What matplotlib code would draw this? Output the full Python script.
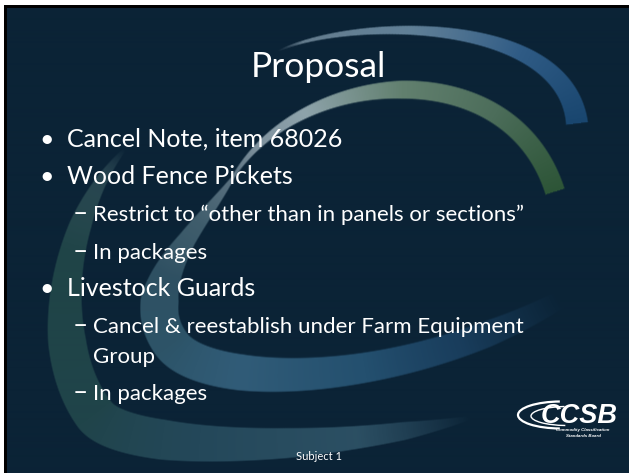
import numpy as np
import matplotlib
matplotlib.use("Agg")
import matplotlib.pyplot as plt
from matplotlib.colors import to_rgb
from matplotlib.patches import Arc

# ---------------- content ----------------
TITLE = "Proposal"
LEVELS = [0, 0, 1, 1, 0, 1, 2, 1]          # 0 bullet, 1 dash, 2 continuation line
ITEMS = [
    "Cancel Note, item 68026",
    "Wood Fence Pickets",
    "Restrict to \u201cother than in panels or sections\u201d",
    "In packages",
    "Livestock Guards",
    "Cancel & reestablish under Farm Equipment",
    "Group",
    "In packages",
]
FOOTER = "Subject 1"
LOGO = "CCSB"
LOGO_SUB = ["Commodity Classification", "Standards Board"]

# ---------------- style ----------------
W, H = 629, 473
BG = "#0b2336"
FONT = "Lato"

# decorative swooshes: cubic bezier segments with width / colour stops
SWOOSHES = [
    # outer faint crescent (left / bottom)
    [
        dict(p=[(125, 150), (60, 220), (45, 350), (95, 415)],
             w=[(0, 3), (0.3, 22), (0.7, 38), (1, 42)],
             c=[(0, "#4f6f78", 0.0), (0.12, "#3a5b60", 0.6), (0.4, "#1f4447", 1), (1, "#20444a", 1)]),
        dict(p=[(95, 415), (125, 455), (330, 452), (470, 418)],
             w=[(0, 42), (0.3, 40), (0.6, 30), (0.85, 18), (1, 4)],
             c=[(0, "#20444a", 1), (0.4, "#24485a", 1), (0.75, "#2f5468", 0.9), (1, "#3a5e74", 0.0)]),
    ],
    # green arc continuing into inner crescent
    [
        dict(p=[(555, 192), (510, 50), (300, 68), (233, 178)],
             w=[(0, 20), (0.5, 18), (0.8, 9), (1, 3)],
             c=[(0, "#2d5537", 1), (0.25, "#4c6d5a", 1), (0.5, "#62806f", 1),
                (0.75, "#8ea3ab", 1), (0.9, "#93a5b0", 0.85), (1, "#7d93a0", 0.7)]),
        dict(p=[(233, 178), (203, 224), (130, 290), (172, 345)],
             w=[(0, 3), (0.4, 18), (0.75, 38), (1, 38)],
             c=[(0, "#7d93a0", 0.7), (0.3, "#4c6b79", 0.8), (0.6, "#2f5062", 1), (1, "#2d5468", 1)]),
        dict(p=[(172, 345), (207, 391), (400, 390), (560, 300)],
             w=[(0, 38), (0.3, 36), (0.6, 30), (0.85, 26), (1, 18)],
             c=[(0, "#2d5468", 1), (0.3, "#315c78", 1), (0.6, "#24506f", 1),
                (0.8, "#1f486c", 0.7), (1, "#1d466a", 0.0)]),
    ],
    # blue arc (top)
    [
        dict(p=[(278, 52), (350, 18), (565, 15), (577, 124)],
             w=[(0, 1), (0.25, 6), (0.6, 13), (1, 22)],
             c=[(0, "#9db0bd", 0.0), (0.1, "#8aa2b3", 0.7), (0.4, "#6a8aa2", 0.9),
                (0.7, "#2f5b85", 1), (1, "#19466f", 1)]),
    ],
]


def bezier(P, n):
    P = np.asarray(P, float)
    t = np.linspace(0, 1, n)[:, None]
    return ((1 - t) ** 3) * P[0] + 3 * ((1 - t) ** 2) * t * P[1] + 3 * (1 - t) * t ** 2 * P[2] + t ** 3 * P[3]


def build(segs):
    pts, ws, cols, als = [], [], [], []
    for s in segs:
        n = 260
        pt = bezier(s["p"], n)
        t = np.linspace(0, 1, n)
        wt, wv = zip(*s["w"])
        ct = [c[0] for c in s["c"]]
        crgb = np.array([to_rgb(c[1]) for c in s["c"]])
        ca = [c[2] for c in s["c"]]
        pts.append(pt)
        ws.append(np.interp(t, wt, wv))
        cols.append(np.stack([np.interp(t, ct, crgb[:, k]) for k in range(3)], axis=1))
        als.append(np.interp(t, ct, ca))
    return np.vstack(pts), np.concatenate(ws), np.vstack(cols), np.concatenate(als)


yy, xx = np.mgrid[0:H, 0:W] + 0.5
img = np.ones((H, W, 3)) * np.array(to_rgb(BG))

soft = 1.6
for segs in SWOOSHES:
    pts, ws, cols, als = build(segs)
    M = len(pts)
    best = np.full((H, W), np.inf)
    idx = np.zeros((H, W), int)
    for i, (p, w) in enumerate(zip(pts, ws)):
        d = np.hypot(xx - p[0], yy - p[1]) - w / 2
        m = d < best
        best[m] = d[m]
        idx[m] = i
    # butt caps at both ends
    for e, nb in ((0, 1), (M - 1, M - 2)):
        tv = pts[e] - pts[nb]
        tv = tv / np.linalg.norm(tv)
        proj = (xx - pts[e][0]) * tv[0] + (yy - pts[e][1]) * tv[1]
        cut = (idx == e) & (proj > 0)
        best[cut] = np.maximum(best[cut], proj[cut])
    a = np.clip(0.5 - best / soft, 0, 1) * als[idx]
    img = img * (1 - a[..., None]) + cols[idx] * a[..., None]

# frame stripes (white outer, black inner)
img[0:6, :] = 1.0
img[:, 0:4] = 1.0
img[6:9, 4:] = 0.0
img[6:, 4:7] = 0.0

fig = plt.figure(figsize=(W / 100, H / 100), dpi=100)
ax = fig.add_axes([0, 0, 1, 1])
ax.imshow(img, extent=(0, W, H, 0), interpolation="bilinear", aspect="auto")
ax.set_xlim(0, W)
ax.set_ylim(H, 0)
ax.axis("off")

ax.text(318, 77, TITLE, ha="center", va="baseline", color="white",
        fontsize=25.5, family=FONT)

yb = 147.0
for k, (lvl, txt) in enumerate(zip(LEVELS, ITEMS)):
    if k > 0:
        yb += 30.0 if lvl == 2 else 37.2
    if lvl == 0:
        ax.text(47, yb, "\u2022", ha="center", va="baseline", color="white", fontsize=18, family=FONT)
        ax.text(67, yb, txt, ha="left", va="baseline", color="white", fontsize=18, family=FONT)
    else:
        if lvl == 1:
            ax.text(80, yb, "\u2013", ha="center", va="baseline", color="white", fontsize=19, family=FONT)
        ax.text(93, yb, txt, ha="left", va="baseline", color="white", fontsize=16, family=FONT)

ax.text(319, 460, FOOTER, ha="center", va="baseline", color="white", fontsize=8, family=FONT)

# logo
ax.text(579, 423, LOGO, ha="center", va="baseline", color="white", fontsize=19.5,
        family="Liberation Sans", weight="bold", style="italic")
ax.add_patch(Arc((561, 415), 86, 27, theta1=95, theta2=265, color="white", lw=1.6))
ax.add_patch(Arc((567, 416), 72, 19, theta1=100, theta2=255, color="white", lw=1.0))
ax.text(583, 431, LOGO_SUB[0], ha="center", va="baseline", color="white", fontsize=3.2,
        family="Liberation Sans", weight="bold", style="italic")
ax.text(583, 437, LOGO_SUB[1], ha="center", va="baseline", color="white", fontsize=3.2,
        family="Liberation Sans", weight="bold", style="italic")

fig.savefig("out.png", dpi=100)
